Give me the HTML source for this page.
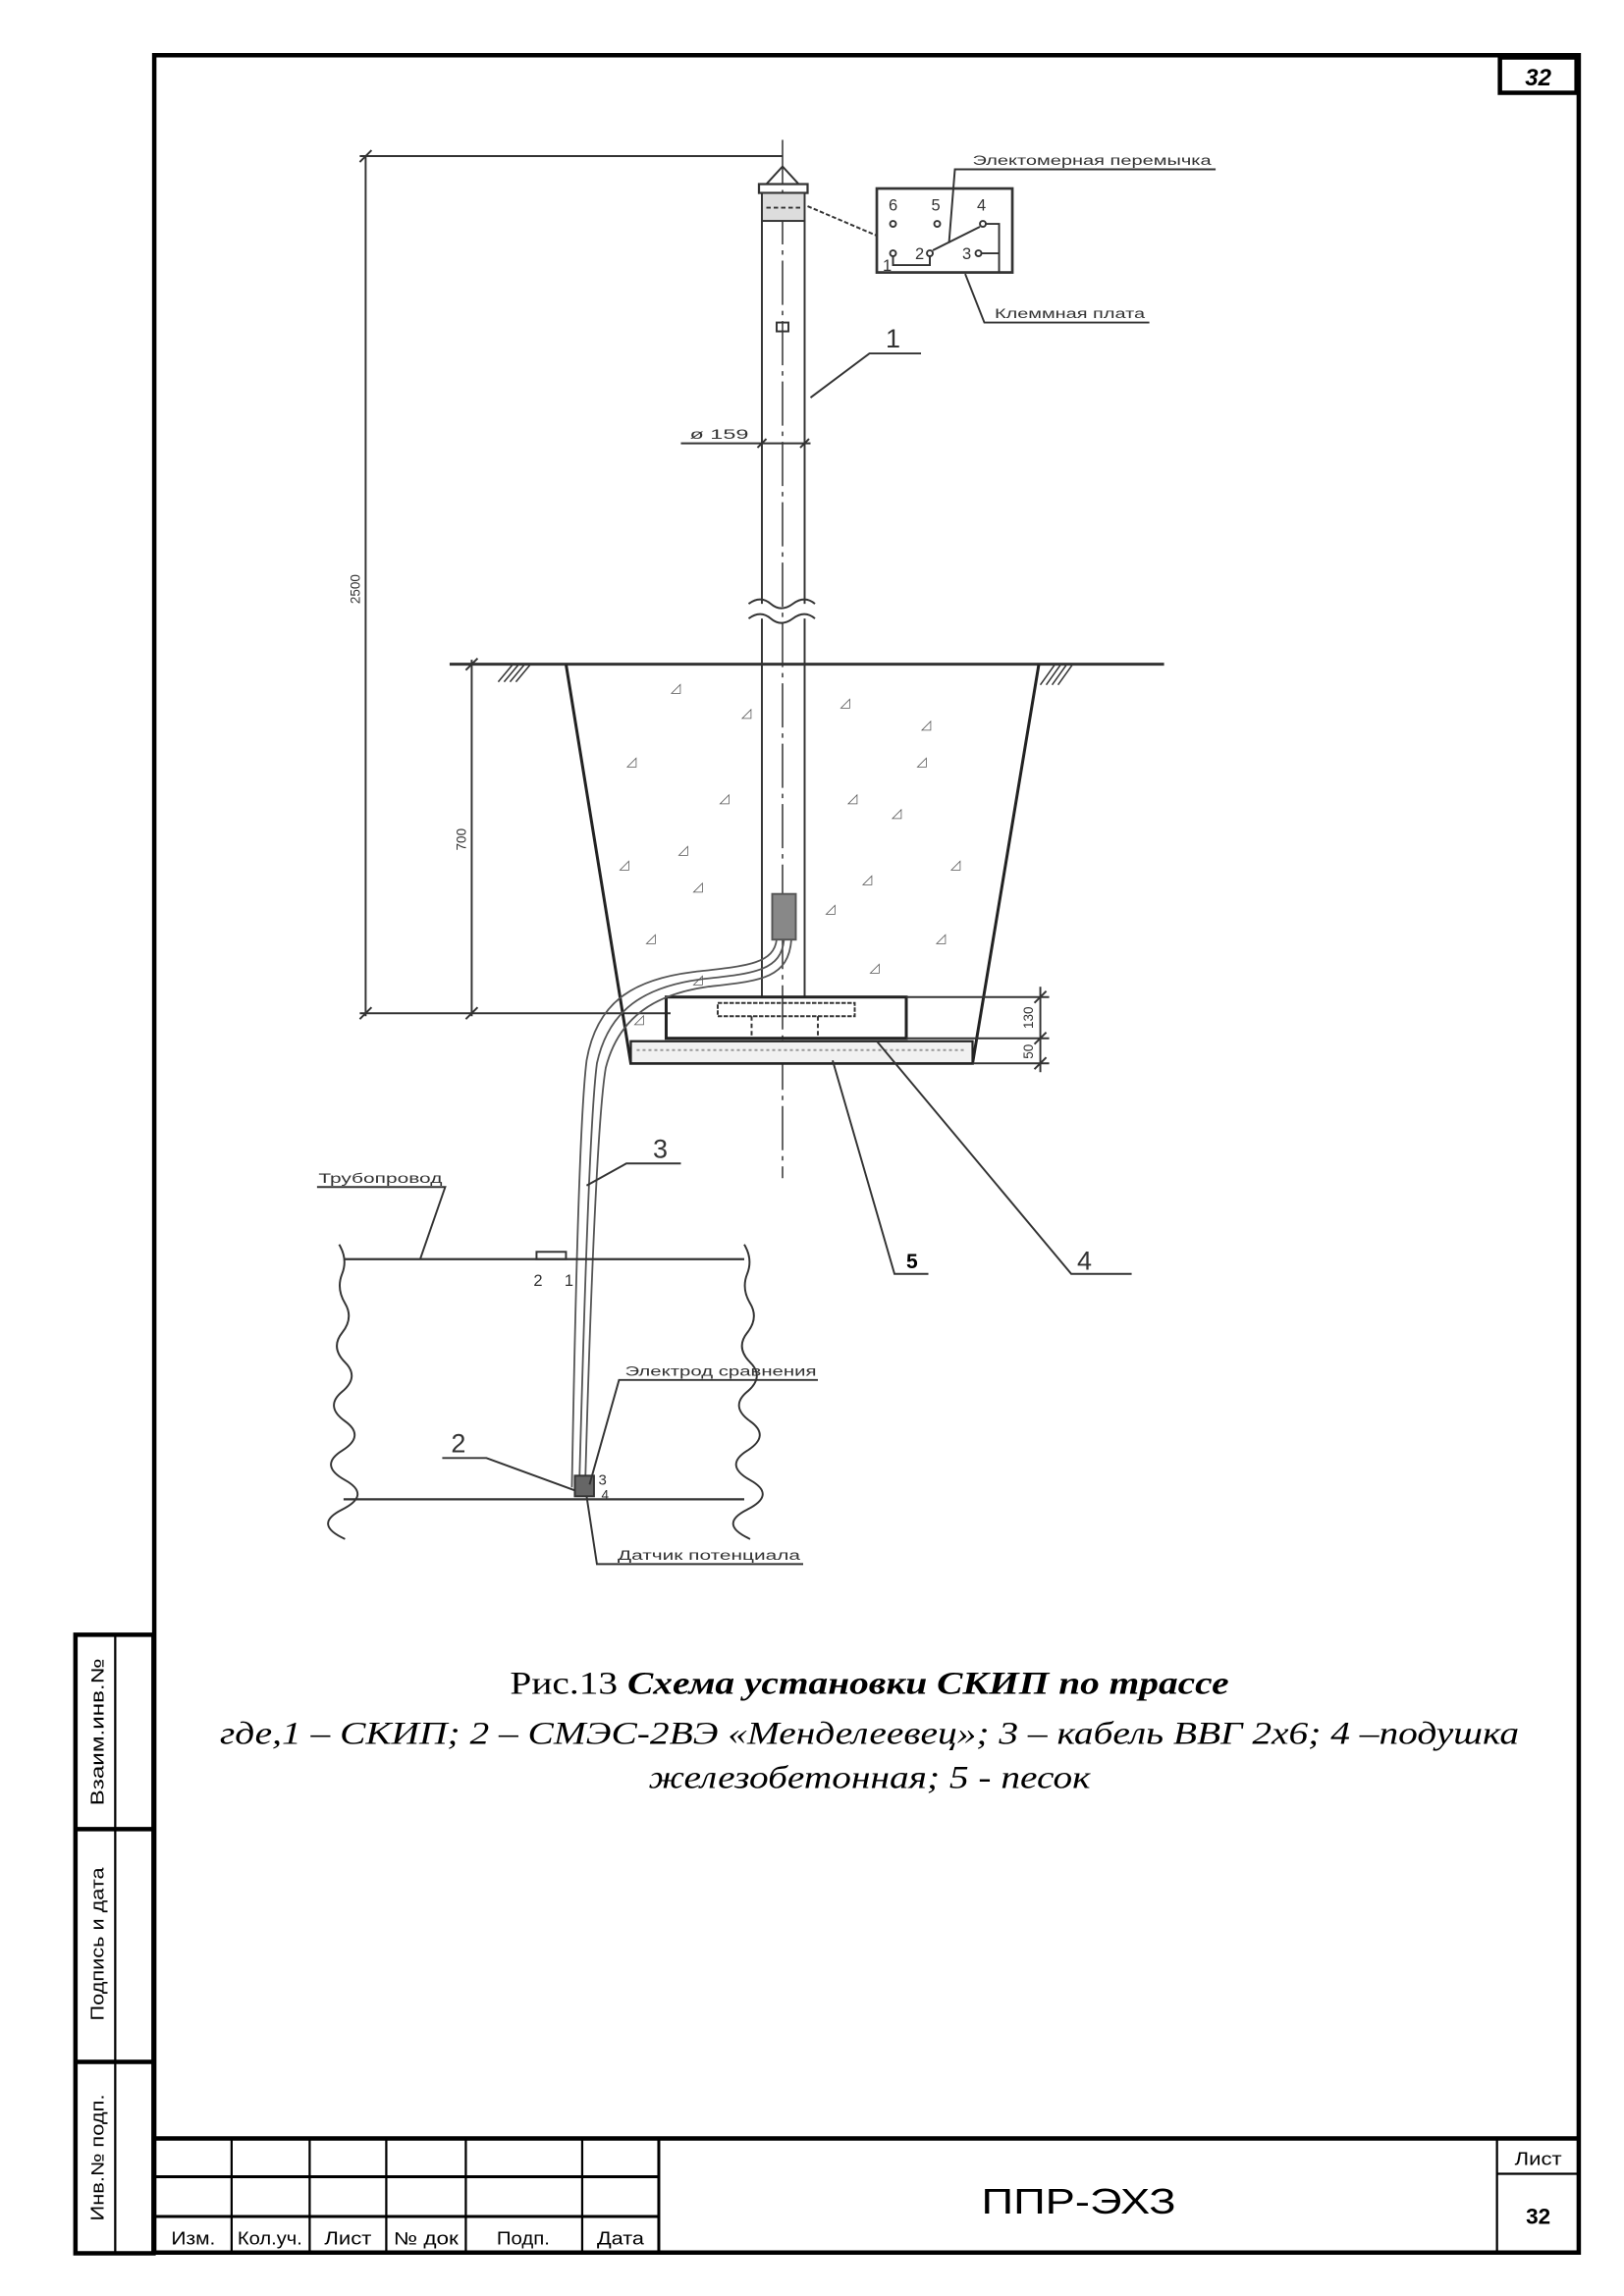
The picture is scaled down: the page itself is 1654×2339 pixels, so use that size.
<!DOCTYPE html>
<html><head><meta charset="utf-8"><style>
html,body{margin:0;padding:0;background:#fff;}
svg{display:block;}
text{font-family:"Liberation Sans","DejaVu Sans",sans-serif;}
.s{font-family:"Liberation Serif","DejaVu Serif",serif;}
</style></head><body>
<svg width="1654" height="2339" viewBox="0 0 1102 1559" xmlns="http://www.w3.org/2000/svg">
<rect width="1102" height="1559" fill="#fff"/>
<rect x="104.5" y="37.5" width="967" height="1492" fill="none" stroke="#000" stroke-width="3"/>
<rect x="1018" y="39" width="52" height="24" fill="none" stroke="#000" stroke-width="3"/>
<text x="1044" y="58" font-size="16" font-weight="bold" font-style="italic" text-anchor="middle">32</text>
<g stroke="#000" fill="none">
<line x1="104" y1="1452" x2="1072" y2="1452" stroke-width="3"/>
<line x1="104" y1="1478" x2="447" y2="1478" stroke-width="2"/>
<line x1="104" y1="1505" x2="447" y2="1505" stroke-width="2"/>
<line x1="157" y1="1452" x2="157" y2="1530" stroke-width="1.5"/>
<line x1="210" y1="1452" x2="210" y2="1530" stroke-width="1.5"/>
<line x1="262" y1="1452" x2="262" y2="1530" stroke-width="1.5"/>
<line x1="316" y1="1452" x2="316" y2="1530" stroke-width="1.5"/>
<line x1="395" y1="1452" x2="395" y2="1530" stroke-width="1.5"/>
<line x1="447" y1="1452" x2="447" y2="1530" stroke-width="2"/>
<line x1="1016" y1="1452" x2="1016" y2="1530" stroke-width="1.5"/>
<line x1="1016" y1="1476" x2="1072" y2="1476" stroke-width="1.5"/>
</g>
<g font-size="12">
<text x="131" y="1524" text-anchor="middle" textLength="30" lengthAdjust="spacingAndGlyphs">Изм.</text>
<text x="183" y="1524" text-anchor="middle" textLength="44" lengthAdjust="spacingAndGlyphs">Кол.уч.</text>
<text x="236" y="1524" text-anchor="middle" textLength="32" lengthAdjust="spacingAndGlyphs">Лист</text>
<text x="289" y="1524" text-anchor="middle" textLength="44" lengthAdjust="spacingAndGlyphs">№ док</text>
<text x="355" y="1524" text-anchor="middle" textLength="36" lengthAdjust="spacingAndGlyphs">Подп.</text>
<text x="421" y="1524" text-anchor="middle" textLength="32" lengthAdjust="spacingAndGlyphs">Дата</text>
<text x="1044" y="1470" text-anchor="middle" textLength="32" lengthAdjust="spacingAndGlyphs">Лист</text>
</g>
<text x="1044" y="1510" font-size="15" font-weight="bold" text-anchor="middle">32</text>
<text x="732" y="1503" font-size="24" text-anchor="middle" textLength="132" lengthAdjust="spacingAndGlyphs">ППР-ЭХЗ</text>
<g stroke="#000" fill="none" stroke-width="3">
<rect x="51" y="1110" width="53" height="420"/>
<line x1="78" y1="1110" x2="78" y2="1530" stroke-width="1.5"/>
<line x1="51" y1="1242" x2="104" y2="1242"/>
<line x1="51" y1="1400" x2="104" y2="1400"/>
</g>
<g font-size="12">
<text transform="translate(70,1176) rotate(-90)" text-anchor="middle" textLength="100" lengthAdjust="spacingAndGlyphs">Взаим.инв.№</text>
<text transform="translate(70,1320) rotate(-90)" text-anchor="middle" textLength="104" lengthAdjust="spacingAndGlyphs">Подпись и дата</text>
<text transform="translate(70,1465) rotate(-90)" text-anchor="middle" textLength="86" lengthAdjust="spacingAndGlyphs">Инв.№ подп.</text>
</g>
<g stroke="#333" fill="none" stroke-width="1.3">
<line x1="248" y1="106" x2="248" y2="690"/>
<line x1="244" y1="106" x2="531" y2="106"/>
<line x1="244" y1="688" x2="455" y2="688"/>
<line x1="244" y1="110" x2="252" y2="102"/>
<line x1="244" y1="692" x2="252" y2="684"/>
<line x1="531" y1="95" x2="531" y2="800" stroke-dasharray="30,4,3,4" stroke-width="1"/>
<polyline points="520,125 531,113 542,125"/>
<rect x="515" y="125" width="33" height="6" stroke-width="1.5"/>
<rect x="517" y="131" width="29" height="19" fill="#ddd"/>
<line x1="520" y1="141" x2="543" y2="141" stroke-dasharray="3,2"/>
<line x1="517" y1="150" x2="517" y2="410"/>
<line x1="546" y1="150" x2="546" y2="410"/>
<line x1="517" y1="420" x2="517" y2="677"/>
<line x1="546" y1="420" x2="546" y2="677"/>
<path d="M508,410 q8,-6 15,0 t15,0 t15,0" />
<path d="M508,420 q8,-6 15,0 t15,0 t15,0" />
<rect x="527" y="219" width="8" height="6"/>
<line x1="462" y1="301" x2="550" y2="301"/>
<line x1="514" y1="304" x2="520" y2="298"/>
<line x1="543" y1="304" x2="549" y2="298"/>
<polyline points="550,270 590,240 625,240"/>
<rect x="595" y="128" width="92" height="57" stroke-width="1.8"/>
<line x1="548" y1="140" x2="595" y2="160" stroke-dasharray="3,1.5"/>
<circle cx="606" cy="152" r="2"/><circle cx="636" cy="152" r="2"/><circle cx="667" cy="152" r="2"/>
<circle cx="606" cy="172" r="2"/><circle cx="631" cy="172" r="2"/><circle cx="664" cy="172" r="2"/>
<line x1="633" y1="170" x2="665" y2="154"/>
<polyline points="669,152 678,152 678,185"/>
<line x1="666" y1="172" x2="678" y2="172"/>
<polyline points="606,174 606,180 631,180 631,174"/>
<polyline points="644,165 648,115 825,115"/>
<polyline points="655,186 668,219 780,219"/>
<line x1="305" y1="451" x2="790" y2="451" stroke-width="2"/>
<g stroke-width="1">
<line x1="338" y1="463" x2="348" y2="451"/><line x1="342" y1="463" x2="352" y2="451"/><line x1="346" y1="463" x2="356" y2="451"/><line x1="350" y1="463" x2="360" y2="451"/>
<line x1="706" y1="465" x2="716" y2="451"/><line x1="710" y1="465" x2="720" y2="451"/><line x1="714" y1="465" x2="724" y2="451"/><line x1="718" y1="465" x2="728" y2="451"/>
</g>
<path d="M384,451 L428,722 L660,722 L705,451" fill="none" stroke="#222" stroke-width="2"/>
<line x1="320" y1="448" x2="320" y2="690"/>
<line x1="316" y1="455" x2="324" y2="447"/>
<line x1="316" y1="692" x2="324" y2="684"/>
<rect x="452" y="677" width="163" height="28" stroke="#222" stroke-width="2"/>
<rect x="487" y="681" width="93" height="9" stroke-dasharray="3,1"/>
<line x1="510" y1="690" x2="510" y2="705" stroke-dasharray="3,2"/>
<line x1="555" y1="690" x2="555" y2="705" stroke-dasharray="3,2"/>
<rect x="428" y="707" width="232" height="15" fill="#f1f1f1" stroke="#222" stroke-width="1.5"/>
<line x1="432" y1="713" x2="656" y2="713" stroke-dasharray="2,2" stroke="#999"/>
<line x1="615" y1="677" x2="712" y2="677"/>
<line x1="615" y1="705" x2="712" y2="705"/>
<line x1="660" y1="722" x2="712" y2="722"/>
<line x1="706" y1="670" x2="706" y2="728"/>
<line x1="702" y1="681" x2="710" y2="673"/>
<line x1="702" y1="709" x2="710" y2="701"/>
<line x1="702" y1="726" x2="710" y2="718"/>
<rect x="524" y="607" width="16" height="31" fill="#888" stroke="#555"/>
<g stroke="#555" stroke-width="1.2">
<path d="M527,638 C525,655 505,656 470,660 C430,665 405,680 398,720 C393,760 390,900 388,1010"/>
<path d="M532,638 C530,660 510,661 475,665 C438,670 413,685 405,722 C400,760 396,900 393,1010"/>
<path d="M537,638 C535,665 515,666 480,670 C445,675 420,690 411,725 C405,760 400,900 397,1010"/>
</g>
<polyline points="398,805 425,790 462,790"/>
<line x1="233" y1="855" x2="505" y2="855" stroke-width="1.5"/>
<line x1="233" y1="1018" x2="505" y2="1018" stroke-width="1.5"/>
<path d="M230,845 q6,10 2,20 t2,20 t-2,20 t2,20 t-2,20 t2,20 t-2,20 t2,20 t-2,20 t2,20"/>
<path d="M505,845 q6,10 2,20 t2,20 t-2,20 t2,20 t-2,20 t2,20 t-2,20 t2,20 t-2,20 t2,20"/>
<rect x="364" y="850" width="20" height="5"/>
<polyline points="285,855 302,806 215,806"/>
<rect x="390" y="1002" width="13" height="14" fill="#666"/>
<polyline points="400,1008 420,937 555,937"/>
<polyline points="390,1012 330,990 300,990"/>
<polyline points="398,1016 405,1062 545,1062"/>
<polyline points="595,707 727,865 768,865"/>
<polyline points="565,720 607,865 630,865"/>
</g>
<g fill="#555" font-size="9">
<text x="455" y="470">◿</text><text x="503" y="487">◿</text><text x="425" y="520">◿</text><text x="488" y="545">◿</text><text x="470" y="605">◿</text><text x="460" y="580">◿</text><text x="420" y="590">◿</text><text x="438" y="640">◿</text><text x="470" y="668">◿</text>
<text x="570" y="480">◿</text><text x="625" y="495">◿</text><text x="575" y="545">◿</text><text x="622" y="520">◿</text><text x="605" y="555">◿</text><text x="645" y="590">◿</text><text x="585" y="600">◿</text><text x="590" y="660">◿</text><text x="635" y="640">◿</text><text x="560" y="620">◿</text><text x="430" y="695">◿</text>
</g>
<g fill="#333" font-size="9">
<text transform="translate(244,400) rotate(-90)" text-anchor="middle">2500</text>
<text transform="translate(316,570) rotate(-90)" text-anchor="middle">700</text>
<text transform="translate(701,691) rotate(-90)" text-anchor="middle">130</text>
<text transform="translate(701,714) rotate(-90)" text-anchor="middle">50</text>
<text x="468" y="298" textLength="40" lengthAdjust="spacingAndGlyphs">ø 159</text>
<text x="660" y="112" textLength="162" lengthAdjust="spacingAndGlyphs">Электомерная перемычка</text>
<text x="675" y="216" textLength="102" lengthAdjust="spacingAndGlyphs">Клеммная плата</text>
<text x="603" y="143" font-size="11">6</text><text x="632" y="143" font-size="11">5</text><text x="663" y="143" font-size="11">4</text>
<text x="599" y="184" font-size="11">1</text><text x="621" y="176" font-size="11">2</text><text x="653" y="176" font-size="11">3</text>
<text x="216" y="803" textLength="84" lengthAdjust="spacingAndGlyphs">Трубопровод</text>
<text x="362" y="873" font-size="11">2</text><text x="383" y="873" font-size="11">1</text>
<text x="424" y="934" textLength="130" lengthAdjust="spacingAndGlyphs">Электрод сравнения</text>
<text x="419" y="1059" textLength="124" lengthAdjust="spacingAndGlyphs">Датчик потенциала</text>
<text x="406" y="1008" font-size="10">3</text>
<text x="408" y="1018" font-size="9">4</text>
</g>
<g fill="#333" font-size="18">
<text x="601" y="236">1</text>
<text x="443" y="786">3</text>
<text x="306" y="986">2</text>
<text x="731" y="862">4</text>
</g>
<text x="615" y="861" font-size="14" font-weight="bold">5</text>
<text class="s" x="590" y="1150" font-size="22" text-anchor="middle" textLength="488" lengthAdjust="spacingAndGlyphs">Рис.13 <tspan font-weight="bold" font-style="italic">Схема установки СКИП по трассе</tspan></text>
<text class="s" x="590" y="1184" font-size="22" font-style="italic" text-anchor="middle" textLength="882" lengthAdjust="spacingAndGlyphs">где,1 – СКИП; 2 – СМЭС-2ВЭ «Менделеевец»; 3 – кабель ВВГ 2х6; 4 –подушка</text>
<text class="s" x="590" y="1214" font-size="22" font-style="italic" text-anchor="middle" textLength="300" lengthAdjust="spacingAndGlyphs">железобетонная; 5 - песок</text>
</svg>
</body></html>
